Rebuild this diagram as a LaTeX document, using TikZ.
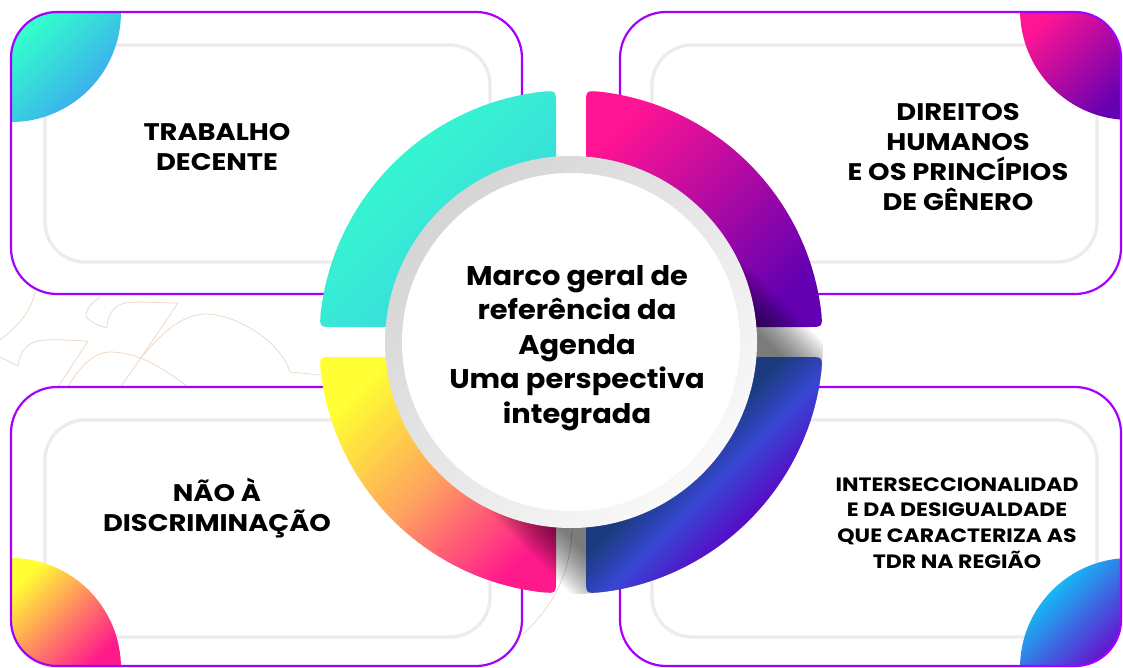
\documentclass[tikz,border=0pt]{standalone}
\usepackage{fontspec}
\setmainfont{Poppins}
\newfontfamily\widefont{Poppins}[FakeStretch=1.14]
\newfontfamily\midfont{Poppins}[FakeStretch=1.07]
\definecolor{panelviolet}{HTML}{A300FF}
\definecolor{innergray}{HTML}{ECECEC}
\definecolor{sketchtan}{HTML}{EDD9C4}
\definecolor{ringdark}{HTML}{D5D5D5}
\definecolor{ringlight}{HTML}{F9F9F9}
\definecolor{aquaA}{HTML}{33FFCC}
\definecolor{aquaB}{HTML}{3CD2E0}
\definecolor{aquaBlob}{HTML}{3E9CF5}
\definecolor{pinkA}{HTML}{FF1493}
\definecolor{pinkB}{HTML}{6300B2}
\definecolor{yellowA}{HTML}{FFFF33}
\definecolor{yellowM}{HTML}{FFA35E}
\definecolor{yellowB}{HTML}{FF1A8C}
\definecolor{navyA}{HTML}{1A3C7E}
\definecolor{navyM}{HTML}{3846D4}
\definecolor{navyB}{HTML}{5A08C6}
\definecolor{cyanA}{HTML}{00E5FF}
\definecolor{cyanB}{HTML}{6A0ACC}
\pgfdeclareverticalshading{navyshade}{100bp}{color(0bp)=(navyB); color(36bp)=(navyB);
  color(47bp)=(navyM); color(56bp)=(navyA); color(100bp)=(navyA)}
\tikzset{
  diag/.style 2 args={top color=#1, bottom color=#2, shading angle=45},
  panelfill/.style={fill=white, rounded corners=46},
  panel/.style={draw=panelviolet, line width=2.2pt, rounded corners=46},
  innerbox/.style={draw=innergray, line width=3.3pt, rounded corners=40},
  sketch/.style={draw=sketchtan, line width=0.8pt},
  boxtext/.style={font=\widefont\bfseries\fontsize{24}{30}\selectfont, align=center, inner sep=0pt},
  smalltext/.style={font=\widefont\bfseries\fontsize{19.3}{25.7}\selectfont, align=center, inner sep=0pt},
  centertext/.style={font=\midfont\bfseries\fontsize{27}{34.4}\selectfont, align=center, inner sep=0pt}
}
% one quarter of the coloured ring: sx, sy, start angle, end angle, fill style
\newcommand{\ringpart}[5]{%
  \path[#5] ({#1*15},{#2*170}) -- ({#1*15},{#2*237})
    .. controls ({#1*15},{#2*251.5}) .. ({#1*29},{#2*250.3})
    arc[start angle=#3, end angle=#4, radius=252]
    .. controls ({#1*251.5},{#2*15}) .. ({#1*237},{#2*15})
    -- ({#1*170},{#2*15}) -- cycle;}
\begin{document}
\begin{tikzpicture}[x=1pt, y=-1pt]
\useasboundingbox (0,0) rectangle (1123,667);
\clip (0,0) rectangle (1123,667);

% faint leaf sketch in the background
\draw[sketch] (35,292) .. controls (30,315) and (15,328) .. (0,340);
\draw[sketch] (0,357) -- (18,366) .. controls (20,350) and (28,341) .. (45,340)
  .. controls (60,339) and (75,341) .. (88,341) -- (58,387);
\draw[sketch] (100,297) .. controls (86,306) and (84,316) .. (88,319)
  .. controls (94,324) and (100,326) .. (107,328) .. controls (107,318) and (112,305) .. (125,303)
  .. controls (140,301) and (160,303) .. (178,303) -- (140,359) -- (115,395);
\draw[sketch] (68,387) .. controls (80,365) and (95,352) .. (110,352)
  .. controls (140,352) and (165,370) .. (187,386);
\draw[sketch] (140,359) .. controls (160,335) and (180,315) .. (205,314)
  .. controls (235,314) and (280,340) .. (290,372) -- (320,375);
\draw[sketch] (572,525) .. controls (572,575) and (550,610) .. (522,635);

% four panels
\fill[panelfill] (11,12) rectangle (522,294);
\fill[panelfill] (620,12) rectangle (1121,294);
\fill[panelfill] (11,387) rectangle (522,666);
\fill[panelfill] (620,387) rectangle (1121,666);
\draw[innerbox] (45,45) rectangle (490,262);
\draw[innerbox] (652,45) rectangle (1097,262);
\draw[innerbox] (45,420) rectangle (490,637);
\draw[innerbox] (652,420) rectangle (1097,637);

% corner blobs
\begin{scope}
  \clip[rounded corners=46] (11,12) rectangle (522,294);
  \path[diag={aquaA}{aquaBlob}] (11,12) -- (121,12) arc[start angle=0, end angle=90, radius=110] -- cycle;
\end{scope}
\begin{scope}
  \clip[rounded corners=46] (620,12) rectangle (1121,294);
  \path[diag={pinkA}{pinkB}] (1130,10) -- (1020,10) arc[start angle=180, end angle=90, radius=110] -- cycle;
\end{scope}
\begin{scope}
  \clip[rounded corners=46] (11,387) rectangle (522,666);
  \path[diag={yellowA}{yellowB}] (11,668) -- (11,558) arc[start angle=-90, end angle=0, radius=110] -- cycle;
\end{scope}
\begin{scope}
  \clip[rounded corners=46] (620,387) rectangle (1121,666);
  \path[diag={cyanA}{cyanB}] (1130,668) -- (1020,668) arc[start angle=180, end angle=270, radius=110] -- cycle;
\end{scope}
\draw[panel] (11,12) rectangle (522,294);
\draw[panel] (620,12) rectangle (1121,294);
\draw[panel] (11,387) rectangle (522,666);
\draw[panel] (620,387) rectangle (1121,666);

% coloured ring
\begin{scope}[shift={(571,342)}]
  \ringpart{-1}{-1}{-96.6}{-173.4}{diag={aquaA}{aquaB}}
  \ringpart{1}{-1}{-83.4}{-6.6}{diag={pinkA}{pinkB}}
  \ringpart{-1}{1}{96.6}{173.4}{top color=yellowA, bottom color=yellowB, middle color=yellowM, shading angle=45}
\end{scope}

% long shadow of the centre disc
\begin{scope}
  \clip (571,342) circle[radius=252];
  \begin{scope}[shift={(571,342)}, rotate=-45]
    \foreach \k in {0,...,19}
      \fill[black, opacity=0.035] (0,{-178+2*\k}) rectangle ({320-7.5*\k},{178-2*\k});
  \end{scope}
\end{scope}

\begin{scope}[shift={(571,342)}]
  \ringpart{1}{1}{83.4}{6.6}{shading=navyshade, shading angle=45}
\end{scope}

% centre disc
\path[diag={ringdark}{ringlight}] (571,342) circle[radius=186];
\fill[white] (571,342) circle[radius=169];

\node[boxtext] (trabalho) at (217,147) {TRABALHO\\DECENTE};
\node[boxtext] (direitos) at (958,157) {DIREITOS\\HUMANOS\\E OS PRINCÍPIOS\\DE GÊNERO};
\node[boxtext] (naoDisc) at (217,508) {NÃO À\\DISCRIMINAÇÃO};
\node[smalltext] (intersec) at (957,523) {INTERSECCIONALIDAD\\E DA DESIGUALDADE\\QUE CARACTERIZA AS\\TDR NA REGIÃO};
\node[centertext] (marco) at (577,348) {Marco geral de\\referência da\\Agenda\\Uma perspectiva\\integrada};
\end{tikzpicture}
\end{document}
